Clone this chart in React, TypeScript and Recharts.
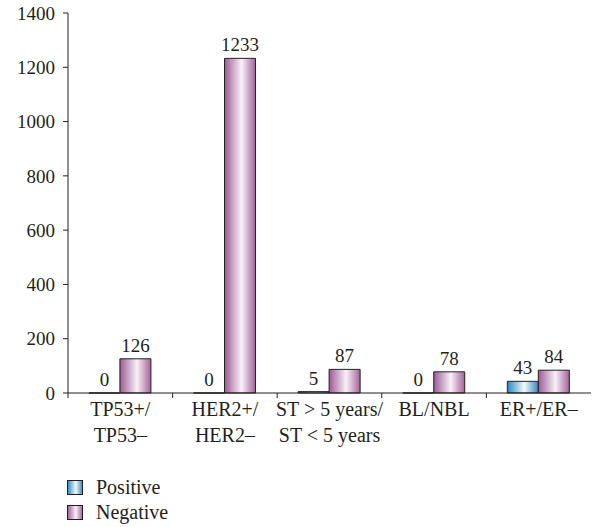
import { BarChart, Bar, XAxis, YAxis, LabelList, Legend } from "recharts";

const categories = ["TP53+/\nTP53–", "HER2+/\nHER2–", "ST > 5 years/\nST < 5 years", "BL/NBL", "ER+/ER–"];
const positive = [0, 0, 5, 0, 43];
const negative = [126, 1233, 87, 78, 84];
const yTicks = [0, 200, 400, 600, 800, 1000, 1200, 1400];

const data = categories.map((c, i) => ({ cat: c, pos: positive[i], neg: negative[i] }));

const FONT = "Liberation Serif, DejaVu Serif, serif";
const INK = "#231f20";
const W = 592;
const H = 527;
const LEFT = 68;
const RIGHT = 1;
const BAND = (W - LEFT - RIGHT) / categories.length;

function CatTick(props: any) {
  const { x, y, payload } = props;
  const lines = String(payload.value).split("\n");
  const half = BAND / 2;
  return (
    <g>
      <line x1={x - half} x2={x - half} y1={y} y2={y + 5} stroke={INK} strokeWidth={1} />
      {lines.map((l, i) => (
        <text
          key={i}
          x={x}
          y={y + 23 + i * 26}
          textAnchor="middle"
          style={{ fontFamily: FONT, fontSize: 20 }}
          fill={INK}
        >
          {l}
        </text>
      ))}
    </g>
  );
}

function LegendBox() {
  const items = ["Positive", "Negative"];
  return (
    <svg width={140} height={50} style={{ overflow: "visible" }}>
      <defs>
        <linearGradient id="lgPos" x1="0" y1="0" x2="1" y2="0">
          <stop offset="0%" stopColor="#2b86bf" />
          <stop offset="55%" stopColor="#f2f9fd" />
          <stop offset="100%" stopColor="#2f8ac3" />
        </linearGradient>
        <linearGradient id="lgNeg" x1="0" y1="0" x2="1" y2="0">
          <stop offset="0%" stopColor="#9c5a94" />
          <stop offset="55%" stopColor="#f9f1f8" />
          <stop offset="100%" stopColor="#a2629b" />
        </linearGradient>
      </defs>
      {items.map((name, i) => (
        <g key={name} transform={`translate(0, ${i * 25})`}>
          <rect x={0.5} y={0.5} width={15} height={14} fill={i === 0 ? "url(#lgPos)" : "url(#lgNeg)"} stroke={INK} />
          <text x={29} y={14} style={{ fontFamily: FONT, fontSize: 20 }} fill={INK}>
            {name}
          </text>
        </g>
      ))}
    </svg>
  );
}

const labelStyle = { fontFamily: FONT, fontSize: 19 };

export default function App() {
  return (
    <div style={{ position: "absolute", left: 0, top: 0, width: W, height: H, background: "#fff", fontFamily: FONT }}>
      <BarChart
        width={W}
        height={H}
        data={data}
        margin={{ top: 13, right: RIGHT, left: 0, bottom: 74 }}
        barCategoryGap="20%"
        barGap={0}
        style={{ fontFamily: FONT }}
      >
        <defs>
          <linearGradient id="gPos" x1="0" y1="0" x2="1" y2="0">
            <stop offset="0%" stopColor="#2b86bf" />
            <stop offset="55%" stopColor="#f2f9fd" />
            <stop offset="100%" stopColor="#2f8ac3" />
          </linearGradient>
          <linearGradient id="gNeg" x1="0" y1="0" x2="1" y2="0">
            <stop offset="0%" stopColor="#9c5a94" />
            <stop offset="55%" stopColor="#f9f1f8" />
            <stop offset="100%" stopColor="#a2629b" />
          </linearGradient>
        </defs>
        <XAxis
          dataKey="cat"
          interval={0}
          height={60}
          tickSize={0}
          tickMargin={0}
          tickLine={false}
          axisLine={{ stroke: INK }}
          tick={<CatTick />}
        />
        <YAxis
          width={LEFT}
          domain={[0, 1400]}
          ticks={yTicks}
          interval={0}
          tickSize={5}
          tickMargin={8}
          axisLine={{ stroke: INK }}
          tickLine={{ stroke: INK }}
          tick={{ fill: INK, style: labelStyle }}
        />
        <Legend
          layout="horizontal"
          verticalAlign="middle"
          align="center"
          wrapperStyle={{ left: 67, top: 480, width: 140, height: 50 }}
          content={() => <LegendBox />}
        />
        <Bar
          dataKey="pos"
          name="Positive"
          fill="url(#gPos)"
          stroke={INK}
          strokeWidth={1}
          minPointSize={0.01}
          isAnimationActive={false}
        >
          <LabelList dataKey="pos" position="top" offset={7} fill={INK} style={labelStyle} />
        </Bar>
        <Bar dataKey="neg" name="Negative" fill="url(#gNeg)" stroke={INK} strokeWidth={1} isAnimationActive={false}>
          <LabelList dataKey="neg" position="top" offset={7} fill={INK} style={labelStyle} />
        </Bar>
      </BarChart>
    </div>
  );
}
